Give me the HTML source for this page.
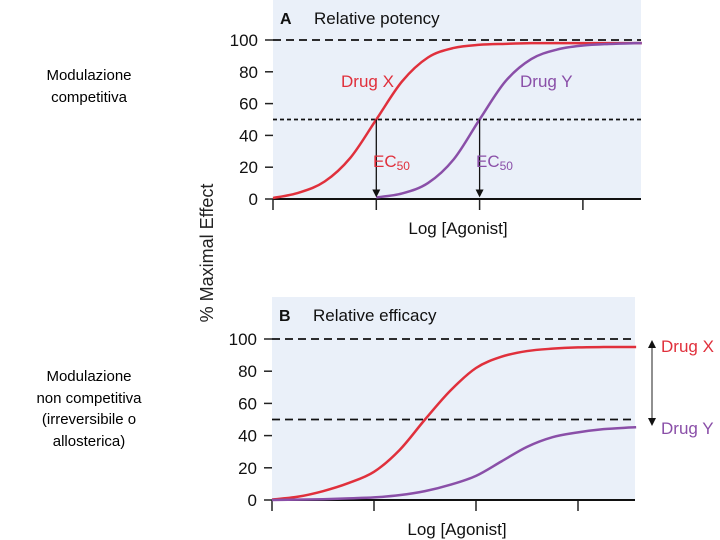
<!DOCTYPE html>
<html><head><meta charset="utf-8"><style>
html,body{margin:0;padding:0;background:#fff;}
svg{display:block;font-family:"Liberation Sans",Arial,sans-serif;}
</style></head><body>
<svg id="chart" width="720" height="540" viewBox="0 0 720 540">
<text x="89" y="80" font-size="15" text-anchor="middle">Modulazione</text>
<text x="89" y="102" font-size="15" text-anchor="middle">competitiva</text>
<text x="89" y="381" font-size="15" text-anchor="middle">Modulazione</text>
<text x="89" y="403" font-size="15" text-anchor="middle">non competitiva</text>
<text x="89" y="424" font-size="15" text-anchor="middle">(irreversibile o</text>
<text x="89" y="446" font-size="15" text-anchor="middle">allosterica)</text>
<text transform="translate(213,253) rotate(-90)" font-size="18" text-anchor="middle" fill="#222">% Maximal Effect</text>
<g id="pA"></g>
<g id="pB"></g>
</svg>
<script>
const uGrid = [0,0.25,0.5,0.75,1,1.25,1.5,1.75,2,2.25,2.5,2.75,3,3.25,3.5,3.57];
const yTicks = [0,20,40,60,80,100];
const xTicks = [0,1,2,3];
const aDrugX = [0.6,4,11,26,50,74,89,95,97,97.6,98,98,98,98,98,98];
const aDrugYU = [1,1.25,1.5,1.75,2,2.25,2.5,2.75,3,3.25,3.5,3.57];
const aDrugY = [1,3.5,10,25,50,74,88,94,96.5,97.5,98,98];
const bDrugX = [0.3,2,5.5,10.5,17.5,31,50,68,82,89,92.5,94,94.8,95,95,95];
const bDrugY = [0,0.2,0.5,1,1.6,3,5.5,9.5,15,24,33,39,42,44,45,45.2];

const NS="http://www.w3.org/2000/svg";
function el(parent,tag,attrs,text){const e=document.createElementNS(NS,tag);for(const k in attrs)e.setAttribute(k,attrs[k]);if(text!==undefined)e.textContent=text;parent.appendChild(e);return e;}
function smooth(pts){let d="M"+pts[0][0]+","+pts[0][1];for(let i=0;i<pts.length-1;i++){const p0=pts[Math.max(0,i-1)],p1=pts[i],p2=pts[i+1],p3=pts[Math.min(pts.length-1,i+2)];const c1=[p1[0]+(p2[0]-p0[0])/6,p1[1]+(p2[1]-p0[1])/6],c2=[p2[0]-(p3[0]-p1[0])/6,p2[1]-(p3[1]-p1[1])/6];d+=" C"+c1[0]+","+c1[1]+" "+c2[0]+","+c2[1]+" "+p2[0]+","+p2[1];}return d;}

function panel(g,cfg){
  const xs=u=>cfg.x0+cfg.ux*u, ys=v=>cfg.y0-(cfg.y0-cfg.y100)*v/100;
  const bg=el(g,'rect',{x:cfg.x0,y:cfg.top,width:cfg.x1-cfg.x0,height:cfg.y0-cfg.top,fill:'#eaf0f9'});
  
  
  yTicks.forEach(v=>{
    const t=el(g,'line',{x1:cfg.x0-8,x2:cfg.x0,y1:ys(v),y2:ys(v),stroke:'#222','stroke-width':1.5});
    
    
    const l=el(g,'text',{x:cfg.x0-15,y:ys(v)+6,'font-size':17,'text-anchor':'end',fill:'#111'},v);
    
    
  });
  xTicks.forEach(u=>{
    const t=el(g,'line',{x1:xs(u),x2:xs(u),y1:cfg.y0,y2:cfg.y0+11,stroke:'#222','stroke-width':1.5});
    
    
  });
  const ax=el(g,'line',{x1:cfg.x0,x2:cfg.x1,y1:cfg.y0,y2:cfg.y0,stroke:'#111','stroke-width':2});
  
  
  [[100,'8 5'],[50,cfg.halfDash]].forEach(([v,da])=>{
    const r=el(g,'line',{x1:cfg.x0,x2:cfg.x1,y1:ys(v),y2:ys(v),stroke:'#111','stroke-width':1.8,'stroke-dasharray':da});
    
    
  });
  const xl=el(g,'text',{x:cfg.x0+185,y:cfg.y0+35,'font-size':17,'text-anchor':'middle',fill:'#111'},'Log [Agonist]');
  
  
  const pl=el(g,'text',{x:cfg.x0+7,y:cfg.top+24,'font-size':16,'font-weight':'bold',fill:'#111'},cfg.letter);
  
  
  const pt=el(g,'text',{x:cfg.x0+41,y:cfg.top+24,'font-size':17,fill:'#111'},cfg.title);
  
  
  cfg.series.forEach(s=>{
    const pts=s.u.map((u,i)=>[xs(u),ys(s.v[i])]);
    const p=el(g,'path',{d:smooth(pts),fill:'none',stroke:s.color,'stroke-width':2.5});
    
    
  });
  return {xs,ys};
}

const A=panel(document.getElementById('pA'),{x0:273,x1:641,top:0,y0:199,y100:40,ux:103.3,letter:'A',title:'Relative potency',halfDash:'4 3',
  series:[{u:uGrid,v:aDrugX,color:'#e0303c',name:'drug-x-curve-a'},{u:aDrugYU,v:aDrugY,color:'#8a4fa8',name:'drug-y-curve-a'}]});
const B=panel(document.getElementById('pB'),{x0:272,x1:635,top:297,y0:500,y100:339,ux:102,letter:'B',title:'Relative efficacy',halfDash:'8 5',
  series:[{u:uGrid,v:bDrugX,color:'#e0303c',name:'drug-x-curve-b'},{u:uGrid,v:bDrugY,color:'#8a4fa8',name:'drug-y-curve-b'}]});

const gA=document.getElementById('pA'), gB=document.getElementById('pB');
function txt(g,x,y,s,c,name,size){const t=el(g,'text',{x:x,y:y,'font-size':size||17,fill:c},s);return t;}
txt(gA,341,87,'Drug X','#e0303c','drug-x-label-a');
txt(gA,520,87,'Drug Y','#8a4fa8','drug-y-label-a');
[[1,'#e0303c',373],[2,'#8a4fa8',476]].forEach(([u,c,lx],i)=>{
  const x=A.xs(u);
  const l=el(gA,'line',{x1:x,x2:x,y1:A.ys(50),y2:A.ys(3),stroke:'#111','stroke-width':1.3});
  
  
  const h=el(gA,'path',{d:`M${x-4},${A.ys(6)} L${x+4},${A.ys(6)} L${x},${A.ys(1)} Z`,fill:'#111'});
  
  
  const t=txt(gA,lx,167,'EC',c,'ec50-label');
  const s=el(t,'tspan',{'font-size':12,dy:3},'50');
});
txt(gB,661,352,'Drug X','#e0303c','drug-x-label-b');
txt(gB,661,434,'Drug Y','#8a4fa8','drug-y-label-b');
const ar=el(gB,'line',{x1:652,x2:652,y1:348,y2:418,stroke:'#555','stroke-width':1.3});


const h1=el(gB,'path',{d:'M648,348 L656,348 L652,340 Z',fill:'#111'});


const h2=el(gB,'path',{d:'M648,418 L656,418 L652,426 Z',fill:'#111'});


</script>
</body></html>
